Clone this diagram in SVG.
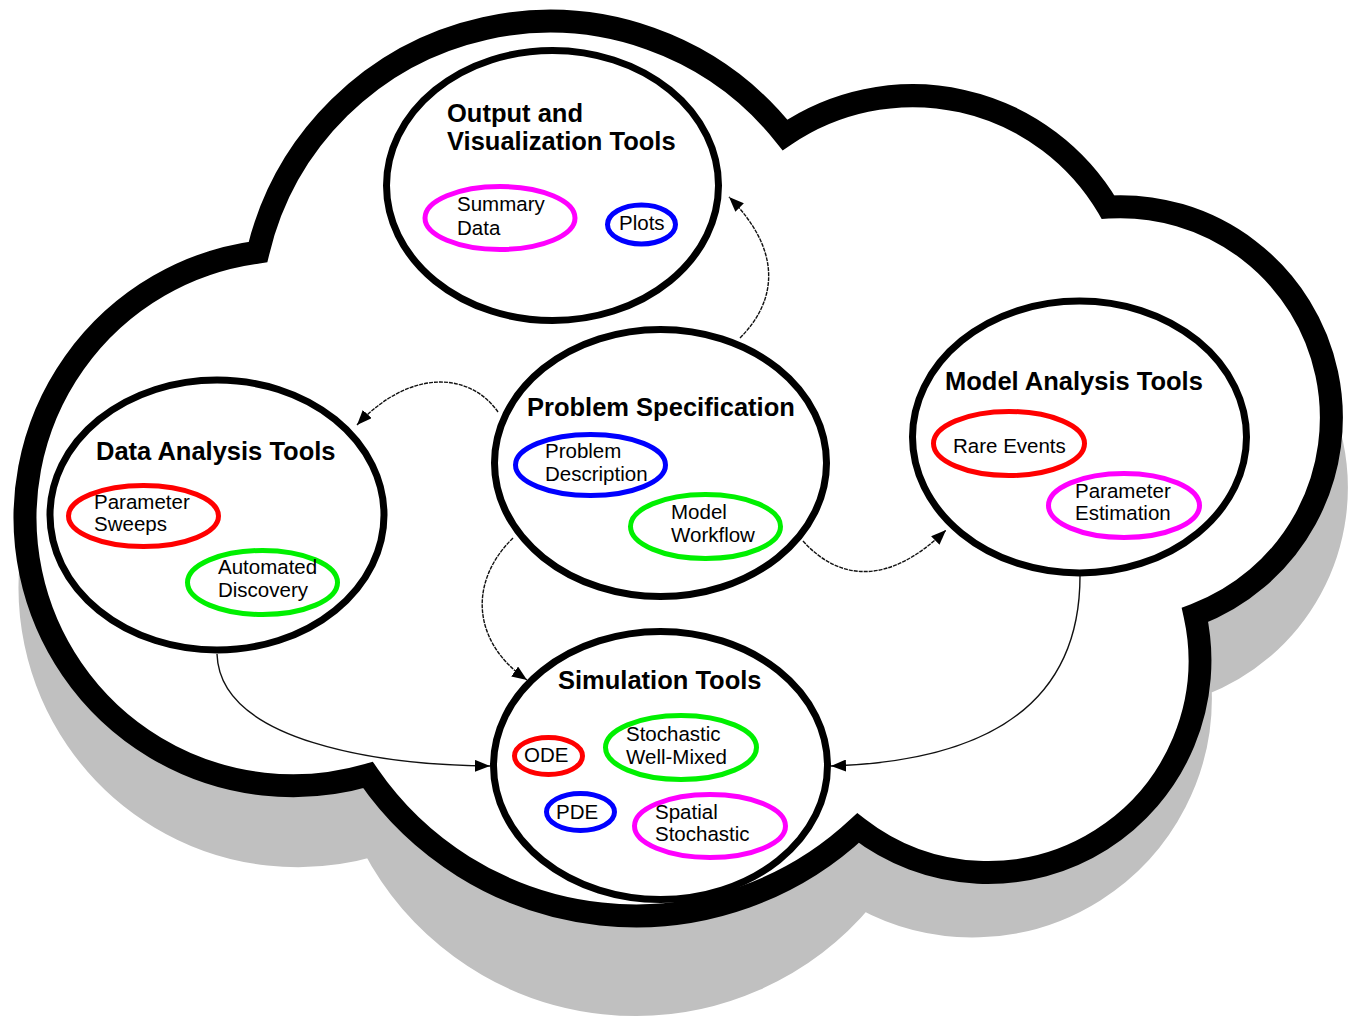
<svg xmlns="http://www.w3.org/2000/svg" width="1362" height="1022" viewBox="0 0 1362 1022">
<defs>
<style>
.title{font-family:"Liberation Sans",Arial,sans-serif;font-weight:bold;font-size:25.5px;fill:#000}
.lbl{font-family:"Liberation Sans",Arial,sans-serif;font-size:20.5px;fill:#000}
.node{fill:#fff;stroke:#000;stroke-width:7}
.sub{fill:none;stroke-width:5}
.red{stroke:#ff0000}.green{stroke:#00f000}.blue{stroke:#0000ff}.mag{stroke:#ff00ff}
.conn{fill:none;stroke:#111;stroke-width:1.4}
.rough{stroke-dasharray:4 1}
</style>
<marker id="arr" markerUnits="userSpaceOnUse" markerWidth="16" markerHeight="12" refX="15" refY="6" orient="auto">
<path d="M0,0 L15,6 L0,12 z" fill="#000"/>
</marker>
</defs>
<rect width="1362" height="1022" fill="#fff"/>
<g id="cloud">
<path id="cloud-shadow" d="M 263 322 A 300 300 0 0 1 790 205 A 227 227 0 0 1 1113 277 A 211 211 0 0 1 1200 685 A 228 228 0 0 1 863 898 A 296 296 0 0 1 373 845 A 268 268 0 1 1 263 322 Z" fill="#c0c0c0" stroke="#c0c0c0" stroke-width="23" stroke-linejoin="miter" stroke-miterlimit="10"/>
<path id="cloud-outline" d="M 258 252 A 300 300 0 0 1 785 135 A 227 227 0 0 1 1108 207 A 211 211 0 0 1 1195 615 A 212 212 0 0 1 858 828 A 325 325 0 0 1 368 775 A 268 268 0 1 1 258 252 Z" fill="#fff" stroke="#000" stroke-width="23" stroke-linejoin="miter" stroke-miterlimit="10"/>
</g>
<g id="output-node">
<ellipse class="node" cx="552.5" cy="185.5" rx="166" ry="135"/>
<text class="title" x="447" y="122">Output and</text>
<text class="title" x="447" y="150">Visualization Tools</text>
<ellipse class="sub mag" cx="500" cy="218" rx="75" ry="31.5"/>
<text class="lbl" x="457" y="211">Summary</text>
<text class="lbl" x="457" y="235">Data</text>
<ellipse class="sub blue" cx="641.5" cy="224.5" rx="34" ry="19.5"/>
<text class="lbl" x="619" y="230">Plots</text>
</g>
<g id="problem-node">
<ellipse class="node" cx="660.5" cy="463" rx="166" ry="133.5"/>
<text class="title" x="527" y="416">Problem Specification</text>
<ellipse class="sub blue" cx="590.5" cy="465" rx="75" ry="30.5"/>
<text class="lbl" x="545" y="458">Problem</text>
<text class="lbl" x="545" y="481">Description</text>
<ellipse class="sub green" cx="705.5" cy="526.5" rx="75" ry="32"/>
<text class="lbl" x="671" y="519">Model</text>
<text class="lbl" x="671" y="542">Workflow</text>
</g>
<g id="data-node">
<ellipse class="node" cx="217" cy="515" rx="167" ry="135"/>
<text class="title" x="96" y="460">Data Analysis Tools</text>
<ellipse class="sub red" cx="143.5" cy="516" rx="75" ry="30.5"/>
<text class="lbl" x="94" y="509">Parameter</text>
<text class="lbl" x="94" y="531">Sweeps</text>
<ellipse class="sub green" cx="262.5" cy="582.5" rx="75" ry="32"/>
<text class="lbl" x="218" y="574">Automated</text>
<text class="lbl" x="218" y="597">Discovery</text>
</g>
<g id="model-node">
<ellipse class="node" cx="1079.5" cy="437" rx="167" ry="136"/>
<text class="title" x="945" y="390">Model Analysis Tools</text>
<ellipse class="sub red" cx="1009" cy="443.5" rx="75.5" ry="32"/>
<text class="lbl" x="953" y="453">Rare Events</text>
<ellipse class="sub mag" cx="1124" cy="505.5" rx="75.5" ry="32"/>
<text class="lbl" x="1075" y="498">Parameter</text>
<text class="lbl" x="1075" y="520">Estimation</text>
</g>
<g id="simulation-node">
<ellipse class="node" cx="660.5" cy="765.5" rx="167" ry="134"/>
<text class="title" x="558" y="689">Simulation Tools</text>
<ellipse class="sub red" cx="548.5" cy="756" rx="34" ry="18.5"/>
<text class="lbl" x="524" y="762">ODE</text>
<ellipse class="sub green" cx="681" cy="747.5" rx="75.5" ry="32"/>
<text class="lbl" x="626" y="741">Stochastic</text>
<text class="lbl" x="626" y="764">Well-Mixed</text>
<ellipse class="sub blue" cx="580.5" cy="812" rx="34" ry="18.5"/>
<text class="lbl" x="556" y="819">PDE</text>
<ellipse class="sub mag" cx="710" cy="826" rx="75.5" ry="31.5"/>
<text class="lbl" x="655" y="819">Spatial</text>
<text class="lbl" x="655" y="841">Stochastic</text>
</g>
<g id="connectors">
<path class="conn rough" d="M 740 338 C 778 300, 782 250, 729 197" marker-end="url(#arr)"/>
<path class="conn rough" d="M 498 412 C 470 372, 410 368, 357 425" marker-end="url(#arr)"/>
<path class="conn rough" d="M 513 538 C 468 582, 472 642, 527 680" marker-end="url(#arr)"/>
<path class="conn rough" d="M 803 541 C 840 582, 890 585, 946 530" marker-end="url(#arr)"/>
<path class="conn" d="M 217 654 C 220 742, 380 765, 490 766" marker-end="url(#arr)"/>
<path class="conn" d="M 1080 576 C 1080 722, 960 762, 831 766" marker-end="url(#arr)"/>
</g>
</svg>
